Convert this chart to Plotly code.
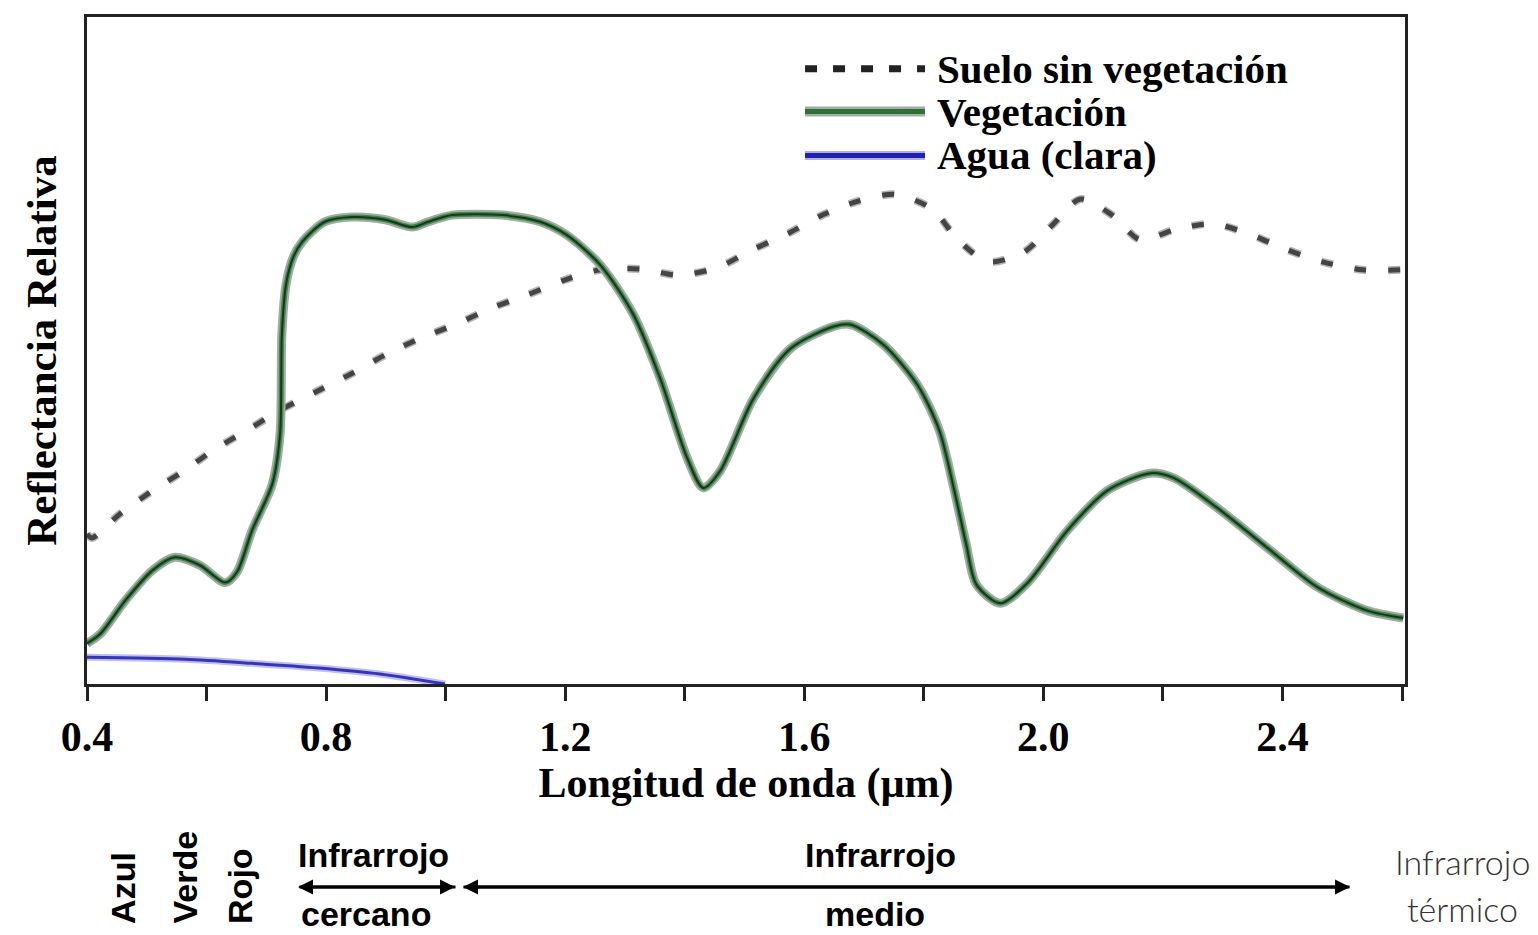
import plotly.graph_objects as go

# ---------------- data (wavelength in µm, relative reflectance 0-100) ----------------
soil_x = [0.400, 0.408, 0.455, 0.505, 0.561, 0.614, 0.669, 0.726, 0.785, 0.844, 0.900,
          0.957, 1.019, 1.078, 1.138, 1.200, 1.259, 1.329, 1.389, 1.454, 1.513, 1.572,
          1.630, 1.690, 1.752, 1.814, 1.856, 1.908, 1.968, 2.015, 2.062, 2.115, 2.162,
          2.219, 2.283, 2.343, 2.405, 2.467, 2.534, 2.600]
soil_y = [22.5, 21.9, 25.5, 28.7, 31.9, 35.2, 38.1, 41.2, 43.9, 46.6, 49.4,
          51.8, 54.0, 56.4, 58.4, 60.6, 62.1, 62.2, 61.3, 62.4, 65.1, 67.5,
          70.3, 72.4, 73.4, 71.2, 66.7, 63.3, 64.8, 68.8, 72.7, 70.3, 66.6,
          68.1, 69.0, 67.5, 65.2, 63.3, 62.1, 62.1]

veg_x = [0.400, 0.422, 0.464, 0.509, 0.547, 0.589, 0.631, 0.651, 0.676, 0.710, 0.723,
         0.726, 0.733, 0.745, 0.760, 0.798, 0.844, 0.899, 0.944, 0.971, 1.011, 1.095,
         1.158, 1.203, 1.259, 1.314, 1.359, 1.404, 1.431, 1.459, 1.515, 1.577, 1.649,
         1.677, 1.732, 1.789, 1.826, 1.851, 1.871, 1.888, 1.928, 1.973, 2.040, 2.107,
         2.179, 2.218, 2.291, 2.375, 2.459, 2.542, 2.602]
veg_y = [6.1, 7.5, 12.5, 17.0, 19.0, 17.8, 15.2, 16.8, 23.0, 30.0, 37.5,
         52.4, 59.9, 64.0, 66.3, 69.3, 70.0, 69.6, 68.5, 69.3, 70.3, 70.3,
         69.3, 67.3, 62.8, 55.4, 45.8, 33.9, 29.4, 31.9, 42.8, 50.3, 53.6,
         53.9, 50.9, 44.9, 38.0, 29.0, 20.9, 14.9, 12.1, 15.1, 23.0, 29.0,
         31.6, 30.9, 26.4, 20.4, 14.5, 11.0, 9.9]

water_x = [0.400, 0.564, 0.676, 0.787, 0.890, 0.999]
water_y = [4.0, 3.7, 3.1, 2.4, 1.5, 0.0]

tick_vals = [0.4, 0.6, 0.8, 1.0, 1.2, 1.4, 1.6, 1.8, 2.0, 2.2, 2.4, 2.6]
tick_text = ["0.4", "", "0.8", "", "1.2", "", "1.6", "", "2.0", "", "2.4", ""]

legend_labels = ["Suelo sin vegetación", "Vegetación", "Agua (clara)"]

SERIF = "Liberation Serif"
SANS = "Liberation Sans"

fig = go.Figure()

# soil (dotted)
fig.add_trace(go.Scatter(x=soil_x, y=soil_y, mode="lines", showlegend=False,
                         line=dict(color="#b5b5b5", width=8, dash="12px,22px", shape="spline", smoothing=0.8),
                         hoverinfo="skip"))
fig.add_trace(go.Scatter(x=soil_x, y=soil_y, mode="lines", name=legend_labels[0], showlegend=False,
                         line=dict(color="#444444", width=5, dash="12px,22px", shape="spline", smoothing=0.8)))

# vegetation (halo + green + dark core)
fig.add_trace(go.Scatter(x=veg_x, y=veg_y, mode="lines", showlegend=False,
                         line=dict(color="#a3aba3", width=9, shape="spline", smoothing=0.8),
                         hoverinfo="skip"))
fig.add_trace(go.Scatter(x=veg_x, y=veg_y, mode="lines", name=legend_labels[1], showlegend=False,
                         line=dict(color="#3b8a48", width=5, shape="spline", smoothing=0.8)))
fig.add_trace(go.Scatter(x=veg_x, y=veg_y, mode="lines", showlegend=False,
                         line=dict(color="#1c3322", width=2, shape="spline", smoothing=0.8),
                         hoverinfo="skip"))

# water
fig.add_trace(go.Scatter(x=water_x, y=water_y, mode="lines", showlegend=False,
                         line=dict(color="#c0c0f0", width=7, shape="spline", smoothing=0.8),
                         hoverinfo="skip"))
fig.add_trace(go.Scatter(x=water_x, y=water_y, mode="lines", name=legend_labels[2], showlegend=False,
                         line=dict(color="#3535b5", width=3, shape="spline", smoothing=0.8)))

# ---------------- manual legend (paper coordinates) ----------------
lx0, lx1, ltx = 0.5448, 0.6358, 0.6434
ly = [0.9224, 0.8582, 0.7925]
shapes = [
    dict(type="line", xref="paper", yref="paper", x0=lx0, x1=lx1, y0=ly[0], y1=ly[0],
         line=dict(color="#222222", width=7, dash="12px,16px")),
    dict(type="line", xref="paper", yref="paper", x0=lx0, x1=lx1, y0=ly[1], y1=ly[1],
         line=dict(color="#a3aba3", width=10)),
    dict(type="line", xref="paper", yref="paper", x0=lx0, x1=lx1, y0=ly[1], y1=ly[1],
         line=dict(color="#2f6f3a", width=5)),
    dict(type="line", xref="paper", yref="paper", x0=lx0, x1=lx1, y0=ly[2], y1=ly[2],
         line=dict(color="#b0b0e8", width=9)),
    dict(type="line", xref="paper", yref="paper", x0=lx0, x1=lx1, y0=ly[2], y1=ly[2],
         line=dict(color="#1f1fb0", width=5)),
]
annotations = []
for lab, yy in zip(legend_labels, ly):
    annotations.append(dict(xref="paper", yref="paper", x=ltx, y=yy, text=lab, showarrow=False,
                            xanchor="left", yanchor="middle",
                            font=dict(family=SERIF, size=41, color="black", weight="bold")))

# ---------------- spectral region labels below the chart ----------------
band_font = dict(family=SANS, size=34, color="black", weight="bold")
for txt, xx in [("Azul", 0.0273), ("Verde", 0.0744), ("Rojo", 0.1161)]:
    annotations.append(dict(xref="paper", yref="paper", x=xx, y=-0.3627, text=txt, textangle=-90,
                            showarrow=False, xanchor="center", yanchor="bottom", font=band_font))
thermal_font = dict(family="Lato", size=34, color="#333333", weight=300)
for txt, xx, yy, fnt in [("Infrarrojo", 0.2170, -0.2567, band_font),
                         ("cercano", 0.2117, -0.3448, band_font),
                         ("Infrarrojo", 0.6024, -0.2567, band_font),
                         ("medio", 0.5979, -0.3448, band_font),
                         ("Infrarrojo", 1.0440, -0.2657, thermal_font),
                         ("térmico", 1.0440, -0.3373, thermal_font)]:
    annotations.append(dict(xref="paper", yref="paper", x=xx, y=yy, text=txt, showarrow=False,
                            xanchor="center", yanchor="middle", font=fnt))
arrow_y = -0.3045
for tip, off in [(0.1601, 159), (0.2792, -157), (0.2853, 888), (0.9583, -888)]:
    annotations.append(dict(xref="paper", yref="paper", x=tip, y=arrow_y, ax=off, ay=0, text="",
                            showarrow=True, arrowhead=2, arrowsize=1, arrowwidth=3, arrowcolor="black"))

fig.update_layout(
    width=1530, height=927,
    margin=dict(l=79, r=133, t=6, b=251),
    paper_bgcolor="white", plot_bgcolor="white",
    shapes=shapes, annotations=annotations,
    xaxis=dict(range=[0.4, 2.605], tickvals=tick_vals, ticktext=tick_text,
               ticks="outside", ticklen=14, tickwidth=3, tickcolor="#222",
               showline=True, linewidth=3, linecolor="#222", mirror=True,
               showgrid=False, zeroline=False,
               tickfont=dict(family=SERIF, size=42, color="black", weight="bold"),
               title=dict(text="Longitud de onda (µm)", standoff=4,
                          font=dict(family=SERIF, size=42, color="black", weight="bold"))),
    yaxis=dict(range=[0, 100], showticklabels=False, ticks="",
               showline=True, linewidth=3, linecolor="#222", mirror=True,
               showgrid=False, zeroline=False,
               title=dict(text="Reflectancia Relativa", standoff=14,
                          font=dict(family=SERIF, size=43, color="black", weight="bold"))),
)

fig.write_html("out.html")
